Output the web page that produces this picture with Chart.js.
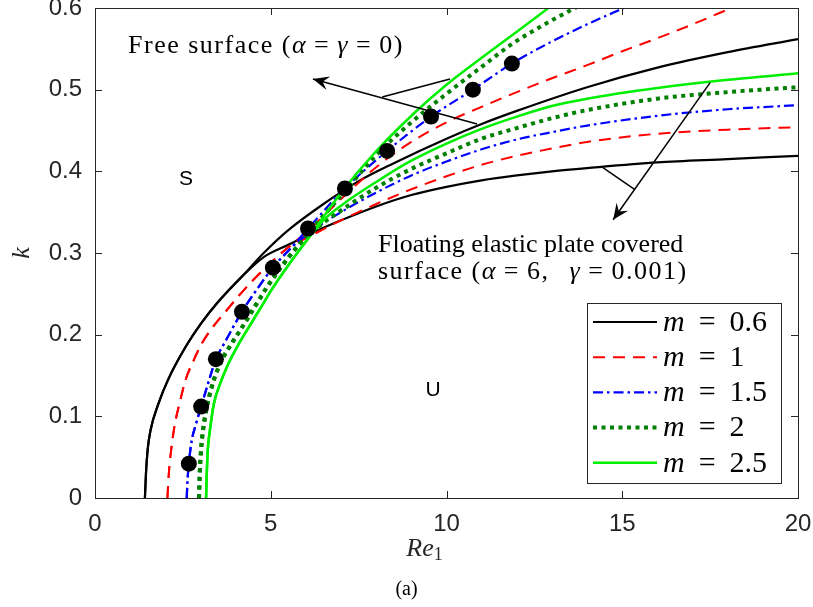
<!DOCTYPE html>
<html>
<head>
<meta charset="utf-8">
<title>Stability curves k vs Re1</title>
<script src="https://cdn.jsdelivr.net/npm/chart.js@4.4.0/dist/chart.umd.min.js"></script>
<style>
    html, body { margin: 0; padding: 0; background: #fff; }
    #wrap { width: 813px; height: 607px; }
</style>
</head>
<body>
<div id="wrap"><canvas id="stabilityChart" width="813" height="607"></canvas></div>
<script>
// Curve data: for each m a common lower branch, then the free surface
// branch (upper) and the plate covered branch (lower)
const xTicks = [0, 5, 10, 15, 20];
const yTicks = [0, 0.1, 0.2, 0.3, 0.4, 0.5, 0.6];
const mLabels = ["0.6", "1", "1.5", "2", "2.5"];

// m = 0.6
const baseRe06 = [1.42, 1.45, 1.5, 1.58, 1.8, 2.08, 2.55, 3.04, 3.5, 4.2];
const baseK06 = [0, 0.03, 0.06, 0.083, 0.115, 0.145, 0.183, 0.215, 0.24, 0.272];
const freeRe06 = [4.8, 5.5, 6.5, 7.5, 8.5, 10, 11, 12, 14, 16, 18, 20];
const freeK06 = [0.3, 0.328, 0.36, 0.388, 0.41, 0.44, 0.458, 0.474, 0.503, 0.527, 0.546, 0.562];
const plateRe06 = [4.8, 5.5, 6.2, 7, 8, 9, 10, 11, 12, 13, 14, 16, 18, 20];
const plateK06 = [0.295, 0.31, 0.325, 0.34, 0.357, 0.371, 0.381, 0.389, 0.395, 0.4, 0.404, 0.411, 0.415, 0.419];

// m = 1
const baseRe1 = [2.06, 2.1, 2.17, 2.27, 2.4, 2.58, 2.8, 3.05, 3.4, 3.75, 4.1, 4.5, 5.0, 5.5];
const baseK1 = [0, 0.03, 0.06, 0.09, 0.115, 0.145, 0.168, 0.19, 0.212, 0.23, 0.248, 0.267, 0.288, 0.307];
const freeRe1 = [6, 7, 8, 9, 10, 11, 12, 13, 14, 15, 16, 17, 18.1];
const freeK1 = [0.325, 0.366, 0.405, 0.436, 0.46, 0.479, 0.497, 0.514, 0.53, 0.547, 0.563, 0.58, 0.6];
const plateRe1 = [6, 7, 8, 9, 10, 11, 12, 13, 14, 16, 18, 20];
const plateK1 = [0.318, 0.34, 0.36, 0.378, 0.394, 0.408, 0.419, 0.428, 0.436, 0.446, 0.451, 0.454];

// m = 1.5
const baseRe15 = [2.61, 2.63, 2.67, 2.75, 2.87, 3.02, 3.25, 3.44, 3.7, 3.94, 4.18, 4.6, 5.06, 5.55];
const baseK15 = [0, 0.02, 0.042, 0.07, 0.09, 0.112, 0.145, 0.17, 0.191, 0.21, 0.228, 0.255, 0.282, 0.305];
const freeRe15 = [6.06, 7.11, 8.31, 9.56, 10.75, 11.86, 13, 14, 15.1];
const freeK15 = [0.33, 0.379, 0.425, 0.467, 0.5, 0.532, 0.559, 0.58, 0.601];
const plateRe15 = [6.2, 7, 8, 9, 10, 11, 12, 13, 14, 16, 18, 20];
const plateK15 = [0.328, 0.35, 0.374, 0.395, 0.412, 0.427, 0.439, 0.448, 0.456, 0.468, 0.476, 0.481];

// m = 2
const baseRe2 = [2.96, 2.98, 3.02, 3.08, 3.2, 3.37, 3.6, 3.9, 4.17, 4.4, 4.6, 4.89, 5.3, 5.8];
const baseK2 = [0, 0.03, 0.06, 0.085, 0.115, 0.143, 0.168, 0.19, 0.208, 0.224, 0.238, 0.258, 0.283, 0.31];
const freeRe2 = [6.3, 7, 8, 9, 10, 11, 11.9, 13, 13.7];
const freeK2 = [0.336, 0.37, 0.42, 0.46, 0.495, 0.528, 0.557, 0.585, 0.601];
const plateRe2 = [6.5, 7, 8, 9, 10, 11, 12, 13, 14, 16, 18, 20];
const plateK2 = [0.337, 0.352, 0.38, 0.403, 0.422, 0.44, 0.453, 0.465, 0.475, 0.489, 0.497, 0.503];

// m = 2.5
const baseRe25 = [3.16, 3.18, 3.21, 3.27, 3.38, 3.56, 3.8, 4.08, 4.36, 4.6, 4.8, 5.04, 5.5, 6.0];
const baseK25 = [0, 0.03, 0.06, 0.083, 0.115, 0.14, 0.165, 0.188, 0.208, 0.225, 0.239, 0.256, 0.285, 0.314];
const freeRe25 = [6.97, 7.9, 9.1, 10, 11, 12, 12.9];
const freeK25 = [0.372, 0.42, 0.472, 0.506, 0.539, 0.571, 0.6];
const plateRe25 = [6.5, 7, 8, 9, 10, 11, 12, 13, 14, 16, 18, 20];
const plateK25 = [0.34, 0.358, 0.387, 0.413, 0.434, 0.452, 0.467, 0.48, 0.489, 0.502, 0.512, 0.52];

// filled markers along the m = 1.5 free surface curve
const markerRe = [2.67, 3.02, 3.44, 4.18, 5.06, 6.06, 7.11, 8.31, 9.56, 10.75, 11.86];
const markerK = [0.042, 0.112, 0.17, 0.228, 0.282, 0.33, 0.379, 0.425, 0.467, 0.5, 0.532];

const FONT_SANS = '"Liberation Sans", Arial, sans-serif';
const FONT_SERIF = '"Liberation Serif", "Times New Roman", serif';
const AXIS_COLOR = "#262626";

// line style of each m
const styles = [
    { color: "#000000", width: 2.2, dash: [] },
    { color: "#ff0000", width: 2, dash: [12, 8] },
    { color: "#0000ff", width: 2.2, dash: [10, 4, 2.5, 4] },
    { color: "#008000", width: 4, dash: [4, 4.5] },
    { color: "#00ee00", width: 2.5, dash: [] }
];

function toPoints(re, k) {
    return re.map((x, i) => ({ x: x, y: k[i] }));
}

const curves = [
    [baseRe06, baseK06, freeRe06, freeK06, plateRe06, plateK06],
    [baseRe1, baseK1, freeRe1, freeK1, plateRe1, plateK1],
    [baseRe15, baseK15, freeRe15, freeK15, plateRe15, plateK15],
    [baseRe2, baseK2, freeRe2, freeK2, plateRe2, plateK2],
    [baseRe25, baseK25, freeRe25, freeK25, plateRe25, plateK25]
];

const datasets = [{
    label: "",
    data: toPoints(markerRe, markerK),
    showLine: false,
    pointRadius: 8,
    pointBackgroundColor: "#000",
    pointBorderWidth: 0,
    order: 0
}];

curves.forEach((c, i) => {
    const s = styles[i];
    const line = {
        showLine: true,
        pointRadius: 0,
        borderColor: s.color,
        borderWidth: s.width,
        borderDash: s.dash,
        cubicInterpolationMode: "monotone",
        order: 5 - i
    };
    datasets.push(Object.assign({ label: "m = " + mLabels[i], legendText: mLabels[i],
        data: toPoints(c[0].concat(c[4]), c[1].concat(c[5])) }, line));
    datasets.push(Object.assign({ label: "",
        data: toPoints(c[0].concat(c[2]), c[1].concat(c[3])) }, line));
});

// text made of upright and italic pieces, p[2] is extra space after a piece
function drawRich(ctx, parts, x, y) {
    parts.forEach(p => {
        ctx.font = p[1];
        ctx.fillText(p[0], x, y);
        x += ctx.measureText(p[0]).width + (p[2] || 0);
    });
}

function arrowHead(ctx, fx, fy, tx, ty) {
    const ang = Math.atan2(ty - fy, tx - fx);
    ctx.save();
    ctx.translate(tx, ty);
    ctx.rotate(ang);
    ctx.beginPath();
    ctx.moveTo(0, 0);
    ctx.lineTo(-16, -7);
    ctx.lineTo(-10, 0);
    ctx.lineTo(-16, 7);
    ctx.closePath();
    ctx.fill();
    ctx.restore();
}

// box with inward ticks on all four sides
const framePlugin = {
    id: "frame",
    afterDatasetsDraw(chart) {
        const { ctx, chartArea: a, scales: { x, y } } = chart;
        ctx.save();
        ctx.strokeStyle = AXIS_COLOR;
        ctx.lineWidth = 1;
        ctx.beginPath();
        xTicks.forEach(v => {
            const px = Math.round(x.getPixelForValue(v)) + 0.5;
            ctx.moveTo(px, a.bottom); ctx.lineTo(px, a.bottom - 7);
            ctx.moveTo(px, a.top); ctx.lineTo(px, a.top + 7);
        });
        yTicks.forEach(v => {
            const py = Math.round(y.getPixelForValue(v)) + 0.5;
            ctx.moveTo(a.left, py); ctx.lineTo(a.left + 7, py);
            ctx.moveTo(a.right, py); ctx.lineTo(a.right - 7, py);
        });
        ctx.stroke();
        ctx.strokeRect(Math.round(a.left) + 0.5, Math.round(a.top) + 0.5,
            Math.round(a.right - a.left), Math.round(a.bottom - a.top));
        ctx.restore();
    }
};

// arrows, region letters and the two notes
const notesPlugin = {
    id: "notes",
    afterDatasetsDraw(chart) {
        const { ctx, scales: { x, y } } = chart;
        const P = (re, k) => [x.getPixelForValue(re), y.getPixelForValue(k)];
        ctx.save();
        ctx.strokeStyle = "#000";
        ctx.fillStyle = "#000";
        ctx.lineWidth = 1.5;

        const seg = (a, b) => { ctx.beginPath(); ctx.moveTo(a[0], a[1]); ctx.lineTo(b[0], b[1]); ctx.stroke(); };

        // free surface group
        let tail = P(10.87, 0.458), head = P(6.2, 0.513);
        seg(tail, head);
        arrowHead(ctx, tail[0], tail[1], head[0], head[1]);
        seg(P(8.17, 0.491), P(10.1, 0.513));

        // plate covered group
        tail = P(17.5, 0.5086); head = P(14.74, 0.3407);
        seg(tail, head);
        arrowHead(ctx, tail[0], tail[1], head[0], head[1]);
        seg(P(14.45, 0.4044), P(15.36, 0.3775));

        ctx.textBaseline = "middle";
        ctx.textAlign = "center";
        ctx.font = "21px " + FONT_SANS;
        let p = P(2.59, 0.39);
        ctx.fillText("S", p[0], p[1]);
        p = P(9.62, 0.132);
        ctx.fillText("U", p[0], p[1]);

        ctx.textAlign = "left";
        const up = "26px " + FONT_SERIF, it = "italic 26px " + FONT_SERIF;
        p = P(8.05, 0.309);
        drawRich(ctx, [["Floating elastic plate covered", up]], p[0], p[1]);
        ctx.letterSpacing = "1.5px";
        p = P(0.94, 0.553);
        drawRich(ctx, [["Free surface (", up], ["α", it, 7], ["=", up, 7], ["γ", it, 7], ["=", up, 7], ["0)", up]], p[0], p[1]);
        p = P(8.05, 0.277);
        drawRich(ctx, [["surface (", up], ["α", it, 7], ["=", up, 7], ["6,", up, 20], ["γ", it, 7], ["=", up, 7], ["0.001)", up]], p[0], p[1]);
        ctx.restore();
    }
};

// legend box in the lower right corner of the plot
const legendPlugin = {
    id: "mLegend",
    afterDraw(chart) {
        const { ctx, chartArea: a } = chart;
        const w = 194, h = 180;
        const bx = Math.round(a.right - 17 - w), by = Math.round(a.bottom - 15 - h);
        ctx.save();
        ctx.fillStyle = "#fff";
        ctx.fillRect(bx, by, w, h);
        ctx.strokeStyle = AXIS_COLOR;
        ctx.lineWidth = 1;
        ctx.strokeRect(bx + 0.5, by + 0.5, w, h);
        chart.data.datasets.filter(d => d.legendText).forEach((d, i) => {
            const yy = by + 19 + i * 35.2;
            ctx.strokeStyle = d.borderColor;
            ctx.lineWidth = d.borderWidth;
            ctx.setLineDash(d.borderDash);
            ctx.beginPath();
            ctx.moveTo(bx + 6, yy);
            ctx.lineTo(bx + 70, yy);
            ctx.stroke();
            ctx.setLineDash([]);
            ctx.fillStyle = "#000";
            ctx.textBaseline = "middle";
            ctx.textAlign = "left";
            drawRich(ctx, [["m", "italic 30px " + FONT_SERIF, 14], ["=", "30px " + FONT_SERIF, 14],
                [d.legendText, "30px " + FONT_SERIF]], bx + 76, yy + 1);
        });
        ctx.restore();
    }
};

// axis titles and the panel tag
const titlesPlugin = {
    id: "titles",
    afterDraw(chart) {
        const { ctx, chartArea: a } = chart;
        ctx.save();
        ctx.fillStyle = "#262626";
        ctx.textBaseline = "middle";
        ctx.textAlign = "center";
        ctx.translate(22, (a.top + a.bottom) / 2);
        ctx.rotate(-Math.PI / 2);
        ctx.font = "italic 26px " + FONT_SERIF;
        ctx.fillText("k", 0, 0);
        ctx.restore();

        ctx.save();
        ctx.fillStyle = "#262626";
        ctx.textBaseline = "middle";
        ctx.textAlign = "left";
        ctx.font = "italic 26px " + FONT_SERIF;
        const reW = ctx.measureText("Re").width;
        const cx = (a.left + a.right) / 2 - 22;
        ctx.fillText("Re", cx - (reW + 9) / 2, a.bottom + 51);
        ctx.font = "18px " + FONT_SERIF;
        ctx.fillText("1", cx - (reW + 9) / 2 + reW, a.bottom + 57);
        ctx.fillStyle = "#000";
        ctx.textAlign = "center";
        ctx.font = "20px " + FONT_SERIF;
        ctx.fillText("(a)", (a.left + a.right) / 2 - 40, a.bottom + 92);
        ctx.restore();
    }
};

new Chart(document.getElementById("stabilityChart"), {
    type: "scatter",
    data: { datasets: datasets },
    options: {
        responsive: false,
        animation: false,
        events: [],
        layout: { padding: { top: 8, right: 15, left: 0, bottom: 0 } },
        plugins: {
            legend: { display: false },
            tooltip: { enabled: false }
        },
        scales: {
            x: {
                type: "linear",
                min: 0,
                max: 20,
                grid: { display: false },
                border: { display: false },
                afterBuildTicks: s => { s.ticks = xTicks.map(v => ({ value: v })); },
                ticks: {
                    color: AXIS_COLOR,
                    font: { family: FONT_SANS, size: 24 },
                    padding: 4,
                    maxRotation: 0,
                    callback: v => String(v)
                },
                afterFit: s => {
                    s.height = 109;
                    s.paddingLeft = 0; s.paddingRight = 0;
                }
            },
            y: {
                type: "linear",
                min: 0,
                max: 0.6,
                grid: { display: false },
                border: { display: false },
                afterBuildTicks: s => { s.ticks = yTicks.map(v => ({ value: v })); },
                ticks: {
                    color: AXIS_COLOR,
                    font: { family: FONT_SANS, size: 24 },
                    padding: 5,
                    callback: v => v === 0 ? "0" : v.toFixed(1)
                },
                afterFit: s => {
                    s.width = 95;
                    s.paddingTop = 0; s.paddingBottom = 0;
                }
            }
        }
    },
    plugins: [framePlugin, notesPlugin, legendPlugin, titlesPlugin]
});
</script>
</body>
</html>
